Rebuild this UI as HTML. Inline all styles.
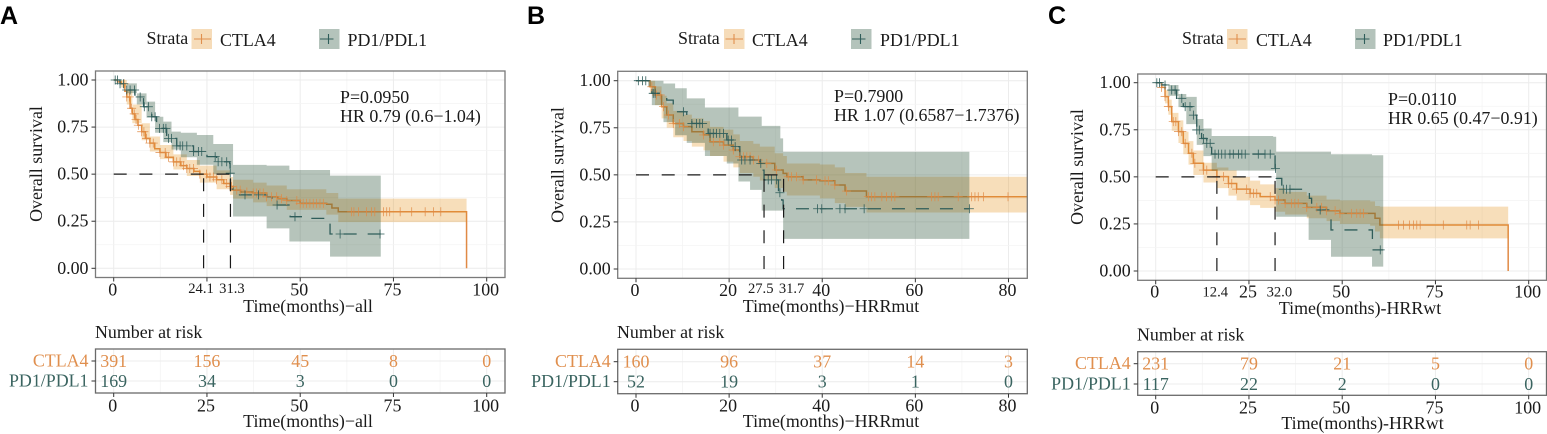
<!DOCTYPE html>
<html lang="en">
<head>
<meta charset="utf-8">
<title>Kaplan-Meier survival curves: CTLA4 vs PD1/PDL1</title>
<style>
html,body{margin:0;padding:0;background:#fff;width:1547px;height:434px;overflow:hidden}
svg{display:block;filter:blur(.3px)}
text{font-family:"Liberation Serif",serif;font-size:17.9px;fill:#1a1a1a}
.letter{font-family:"Liberation Sans",sans-serif;font-weight:bold;font-size:25px;fill:#000}
.cta{fill:#e08f4e}
.pd{fill:#3a6460}
</style>
</head>
<body>
<svg id="chart" xmlns="http://www.w3.org/2000/svg" width="1547" height="434" viewBox="0 0 1547 434">
  <rect x="0" y="0" width="1547" height="434" fill="#fff"/>
  <g id="layer-marks"></g>

  <g>
    <text class="letter" x="0" y="24">A</text>
    <text x="146.5" y="44">Strata</text>
    <g>
      <rect x="191.5" y="29" width="20.5" height="20" fill="#f6dcb9"/>
      <path d="M194 39H211M201.5 34V44" stroke="#e08f4e" stroke-width="1.1" fill="none"/>
      <text x="220" y="46">CTLA4</text>
    </g>
    <g>
      <rect x="319" y="29" width="20.5" height="20" fill="#b4c3bb"/>
      <path d="M320 39H333.5M328.500 34V44" stroke="#2f5d5a" stroke-width="1.1" fill="none"/>
      <text x="347.500" y="46">PD1/PDL1</text>
    </g>
    <text x="340" y="103">P=0.0950</text>
    <text x="340" y="122">HR 0.79 (0.6−1.04)</text>
    <text text-anchor="middle" transform="translate(42,164) rotate(-90)">Overall survival</text>
    <text text-anchor="middle" x="308" y="312">Time(months)−all</text>
    <text x="95" y="338">Number at risk</text>
    <text text-anchor="middle" x="308" y="427">Time(months)−all</text>
  </g>

  <g>
    <text class="letter" x="527" y="24">B</text>
    <text x="678" y="44">Strata</text>
    <g>
      <rect x="724" y="29" width="20.500" height="20" fill="#f6dcb9"/>
      <path d="M725.500 39H743M734 34V44" stroke="#e08f4e" stroke-width="1.1" fill="none"/>
      <text x="752" y="46">CTLA4</text>
    </g>
    <g>
      <rect x="851" y="29" width="20.500" height="20" fill="#b4c3bb"/>
      <path d="M852 39H865.500M860.500 34V44" stroke="#2f5d5a" stroke-width="1.1" fill="none"/>
      <text x="880" y="46">PD1/PDL1</text>
    </g>
    <text x="834" y="102">P=0.7900</text>
    <text x="834" y="121">HR 1.07 (0.6587−1.7376)</text>
    <text text-anchor="middle" transform="translate(563.500,165) rotate(-90)">Overall survival</text>
    <text text-anchor="middle" x="831" y="312">Time(months)−HRRmut</text>
    <text x="617" y="338">Number at risk</text>
    <text text-anchor="middle" x="831" y="427">Time(months)−HRRmut</text>
  </g>

  <g>
    <text class="letter" x="1048" y="24">C</text>
    <text x="1182" y="44">Strata</text>
    <g>
      <rect x="1227" y="29" width="20.500" height="20" fill="#f6dcb9"/>
      <path d="M1228.500 39H1246M1237 34V44" stroke="#e08f4e" stroke-width="1.1" fill="none"/>
      <text x="1256" y="46">CTLA4</text>
    </g>
    <g>
      <rect x="1355" y="29" width="20.500" height="20" fill="#b4c3bb"/>
      <path d="M1356 39H1369.500M1364.500 34V44" stroke="#2f5d5a" stroke-width="1.1" fill="none"/>
      <text x="1383" y="46">PD1/PDL1</text>
    </g>
    <text x="1388" y="105">P=0.0110</text>
    <text x="1388" y="124">HR 0.65 (0.47−0.91)</text>
    <text text-anchor="middle" transform="translate(1083,167) rotate(-90)">Overall survival</text>
    <text text-anchor="middle" x="1360" y="314">Time(months)-HRRwt</text>
    <text x="1137" y="340.500">Number at risk</text>
    <text text-anchor="middle" x="1362.500" y="429">Time(months)-HRRwt</text>
  </g>
</svg>

<script>
/* ---------- shared labels ---------- */
const survivalTicks = [0, 0.25, 0.5, 0.75, 1];
const survivalTickLabels = ['0.00', '0.25', '0.50', '0.75', '1.00'];
const strataNames = ['CTLA4', 'PD1/PDL1'];

/* ---------- panel A: all patients ---------- */
const aTimeTicks = [0, 25, 50, 75, 100];
const aTimeTickLabels = ['0', '', '50', '75', '100'];
const aRiskTickLabels = ['0', '25', '50', '75', '100'];
const aMedians = [24.1, 31.3];
const aMedianLabels = ['24.1', '31.3'];
const aCtlaRisk = [391, 156, 45, 8, 0];
const aPd1Risk = [169, 34, 3, 0, 0];
const aCtlaTimes = [0,1,2,3,3.5,4.4,5,5.7,6.5,7.5,8.5,9.7,11,12.4,14,16,18,19.6,21.5,23.1,25,27.6,29.5,31.2,32,34,37.4,41,44,46.4,50,57.1,58.5,60.2,94.6];
const aCtlaSurv = [1,.99,.98,.94,.91,.85,.82,.79,.76,.725,.69,.665,.635,.615,.59,.565,.545,.53,.515,.5,.485,.47,.45,.435,.415,.405,.4,.38,.37,.36,.345,.34,.32,.30,.30];
const aCtlaBandTimes = [0,2,3.5,5,7.5,9.7,12.4,16,19.6,23.1,27.6,31.2,32,37.4,41,46.4,57,60.2,94.6];
const aCtlaUpper = [1,1,.95,.87,.77,.70,.655,.605,.575,.545,.52,.485,.47,.455,.44,.42,.40,.37,.37];
const aCtlaLower = [1,.96,.87,.77,.68,.62,.58,.525,.49,.455,.42,.39,.37,.35,.33,.31,.285,.245,.245];
const aCtlaCensor = [2.8,3.5,4.2,4.8,5.5,6,6.6,7.5,8.1,8.8,9.7,10.6,12.4,13.8,14.7,16,16.9,17.8,18.7,19.6,20.4,21.4,23.1,24.9,25.8,26.7,27.6,29,30.3,31.2,31.6,33,33.9,35.7,37.4,38.3,39.2,40.1,41,42.3,43.7,45,46.4,49.1,50,50.8,51.7,52.6,53.5,54.4,55.3,56.2,63.8,64.4,65.6,67.8,69.1,70,72.3,73.2,74,76.8,79.9,83.5,85.7,87.7];
const aPd1Times = [0,1.7,3,5.7,8,10.2,11.5,14.2,16.9,21.4,25,27.6,31.1,31.2,31.3,32,41,42.4,47.3,52.2,58,71.6];
const aPd1Surv = [1,.98,.947,.91,.858,.805,.743,.69,.65,.62,.593,.566,.557,.505,.42,.39,.38,.336,.274,.265,.182,.182];
const aPd1BandTimes = [0,3.5,6.2,8.8,11.1,13.3,15.5,18,22.3,26.7,32,41,47.1,58,71.6];
const aPd1Upper = [1,.982,.929,.885,.805,.779,.726,.72,.708,.66,.549,.545,.522,.492,.492];
const aPd1Lower = [1,.93,.87,.80,.72,.67,.63,.59,.55,.50,.275,.212,.142,.062,.062];
const aPd1Censor = [.4,1,1.7,2.6,3.5,4.4,5.6,7.1,8.2,9.3,10.2,11.1,12.3,13.3,14,14.7,15.5,16.9,17.8,18.5,19.6,21.4,22.7,23.6,27.2,28,29,30.3,31.25,35.2,38.8,43.8,48.6,60.7,71.4];

/* ---------- panel B: HRR mutated ---------- */
const bTimeTicks = [0, 20, 40, 60, 80];
const bTimeTickLabels = ['0', '20', '40', '60', '80'];
const bRiskTickLabels = ['0', '20', '40', '60', '80'];
const bMedians = [27.5, 31.7];
const bMedianLabels = ['27.5', '31.7'];
const bCtlaRisk = [160, 96, 37, 14, 3];
const bPd1Risk = [52, 19, 3, 1, 0];
const bCtlaTimes = [0,1.9,3,4.1,5.5,6.6,8,10.2,12,14.5,15.9,18.8,20.9,22.3,25.2,26.6,29.8,31.6,32.4,35.9,39.5,42.7,44.9,49.5,84];
const bCtlaSurv = [1,1,.968,.924,.862,.818,.773,.756,.729,.712,.676,.658,.632,.596,.579,.561,.526,.508,.49,.473,.469,.446,.414,.384,.384];
const bCtlaBandTimes = [0,3,4.1,5.5,6.6,8,10.2,12,14.5,15.9,18.8,20.9,22.3,25.2,26.6,29.8,31.6,32.4,39.5,42.7,44.9,49.5,84];
const bCtlaUpper = [1,1,.97,.92,.88,.84,.82,.80,.785,.755,.74,.715,.68,.665,.65,.615,.60,.56,.555,.54,.51,.49,.49];
const bCtlaLower = [1,.93,.87,.80,.75,.70,.68,.65,.63,.60,.57,.54,.51,.49,.47,.43,.41,.39,.375,.35,.33,.30,.30];
const bCtlaCensor = [3.4,4.4,5.2,5.9,7,8,9.3,10.2,14.5,16.6,18,18.8,20.9,22.3,23.1,23.8,24.5,25.2,26.3,28.1,30.2,32.7,33.4,34.5,35.9,38.8,40.6,41.3,42.7,45.2,49.9,50.6,51.3,52.8,53.8,54.9,55.6,63.5,64.2,64.9,69.2,72.1,72.8,73.5,74.6,79.9];
const bPd1Times = [0,2.6,3.4,6.6,8,10.9,12,15.5,19.5,20.9,22.3,26.6,27,27.5,30.6,31.3,31.6,71.6];
const bPd1Surv = [1,.985,.933,.897,.835,.805,.773,.72,.685,.65,.579,.561,.525,.473,.405,.366,.32,.32];
const bPd1BandTimes = [0,2.6,3.4,5.9,8.4,10.9,14.8,19.5,22,24.5,27,31,31.6,71.6];
const bPd1Upper = [1,1,1,.985,.96,.906,.858,.858,.809,.809,.76,.694,.623,.623];
const bPd1Lower = [1,.97,.87,.78,.71,.67,.60,.56,.465,.42,.31,.31,.16,.16];
const bPd1Censor = [.5,1.4,2.1,3.7,4.1,10.2,12,13,13.7,14.3,15.9,16.6,17.3,18,18.8,19.8,20.5,21.3,22.7,23.4,24.5,26.8,28.4,29.1,30.2,30.9,39,39.9,43.8,44.9,49,71.6];

/* ---------- panel C: HRR wild type ---------- */
const cTimeTicks = [0, 25, 50, 75, 100];
const cTimeTickLabels = ['0', '25', '50', '75', '100'];
const cRiskTickLabels = ['0', '25', '50', '75', '100'];
const cMedians = [16.4, 32.0];
const cMedianLabels = ['12.4', '32.0'];
const cCtlaRisk = [231, 79, 21, 5, 0];
const cPd1Risk = [117, 22, 2, 0, 0];
const cCtlaTimes = [0,1.6,2.5,3.4,4.3,6.1,7.4,8.8,10.1,12.8,16.4,19.5,21.7,25.3,28,32,34.7,40.5,45.8,49.4,57.5,58.8,60.1,94.5];
const cCtlaSurv = [1,.975,.926,.873,.793,.74,.678,.625,.572,.536,.501,.465,.435,.412,.395,.377,.359,.338,.32,.306,.306,.28,.244,.244];
const cCtlaBandTimes = [0,2.5,3.4,4.3,6.1,7.4,8.8,10.1,12.8,16.4,19.5,21.7,25.3,28,32,34.7,40.5,45.8,49.4,57.5,58.8,60.1,94.5];
const cCtlaUpper = [1,.96,.91,.84,.80,.74,.69,.64,.575,.55,.535,.50,.48,.46,.44,.42,.40,.38,.375,.37,.345,.342,.342];
const cCtlaLower = [1,.89,.83,.745,.68,.62,.565,.51,.47,.44,.40,.375,.35,.335,.315,.30,.28,.265,.25,.24,.21,.173,.173];
const cCtlaCensor = [1.6,2.5,3.4,4.7,5.4,6.1,7,7.9,9.7,10.5,12.8,13.7,16.4,18.2,19.5,20.4,21.7,24.4,25.3,26.2,27.1,30.7,32,32.9,34.7,36.4,37.3,38.2,40.5,43.2,44.5,45.8,48.1,49.4,52.5,53.9,54.8,55.7,65.1,66.4,68,69.1,70,70.9,77.1,83.4,84.3,86.5];
const cPd1Times = [0,1.6,3.4,5.6,7.4,9.7,11,12.3,13.7,15,32,32.3,33.8,40.5,41.2,41.8,47,57.9,58.1,61];
const cPd1Surv = [1,.988,.961,.917,.873,.828,.749,.704,.678,.621,.545,.492,.434,.43,.386,.324,.218,.218,.112,.112];
const cPd1BandTimes = [0,3.4,6.1,8.2,11,12.8,15,31.5,32.3,41,47,58,61];
const cPd1Upper = [1,.988,.94,.925,.807,.757,.717,.713,.634,.634,.62,.615,.615];
const cPd1Lower = [1,.93,.87,.78,.67,.61,.533,.533,.288,.165,.076,.023,.023];
const cPd1Censor = [.3,1,2.5,4.3,5.2,7,7.9,9.2,10.1,11,11.7,12.8,13.7,14.6,15.9,16.8,17.7,18.6,19.9,20.8,22.2,23.1,24,27.5,29.3,30.7,32.1,34.2,35.1,36,44.1,60.2];

/* ---------- drawing ---------- */
const SVG_NS = 'http://www.w3.org/2000/svg';
const CTLA_COLOR = '#e08a45';
const PD1_COLOR = '#2f5d5a';
const marks = document.getElementById('layer-marks');

function make(tag, attrs, parent, content) {
  const node = document.createElementNS(SVG_NS, tag);
  for (const key in attrs) node.setAttribute(key, attrs[key]);
  if (content !== undefined) node.textContent = content;
  parent.appendChild(node);
  return node;
}

function stepPath(times, values, xAxis, yAxis, dropToZero) {
  let d = 'M' + xAxis(times[0]).toFixed(2) + ' ' + yAxis(values[0]).toFixed(2);
  for (let i = 1; i < times.length; i++) {
    d += 'H' + xAxis(times[i]).toFixed(2) + 'V' + yAxis(values[i]).toFixed(2);
  }
  if (dropToZero) d += 'V' + yAxis(0).toFixed(2);
  return d;
}

function bandPath(times, upper, lower, xAxis, yAxis) {
  let d = stepPath(times, upper, xAxis, yAxis, false);
  for (let i = times.length - 1; i >= 0; i--) {
    d += 'L' + xAxis(times[i]).toFixed(2) + ' ' + yAxis(lower[i]).toFixed(2);
    if (i > 0) d += 'V' + yAxis(lower[i - 1]).toFixed(2);
  }
  return d + 'Z';
}

function survivalAt(times, values, t) {
  let s = values[0];
  for (let i = 0; i < times.length; i++) {
    if (times[i] <= t) s = values[i];
  }
  return s;
}

function censorPath(censor, times, values, xAxis, yAxis, arm) {
  let d = '';
  censor.forEach(function (t) {
    const px = xAxis(t);
    const py = yAxis(survivalAt(times, values, t));
    d += 'M' + (px - arm).toFixed(2) + ' ' + py.toFixed(2) + 'h' + (2 * arm) + 'M' + px.toFixed(2) + ' ' + (py - arm).toFixed(2) + 'v' + (2 * arm);
  });
  return d;
}

function drawPanel(p) {
  const xAxis = function (t) { return p.xZero + t * p.pxPerMonth; };
  const yAxis = function (s) { return p.yZero - s * (p.yZero - p.yOne); };
  const riskRowY = [p.riskRow1, p.riskRow2];

  const group = make('g', {}, marks);
  
  

  /* gridlines */
  const grid = make('g', { fill: 'none' }, group);
  
  
  const halfStep = (p.ticks[1] - p.ticks[0]) / 2;
  for (let i = 0; i < p.ticks.length; i++) {
    [p.ticks[i], p.ticks[i] + halfStep].forEach(function (t, j) {
      const gx = xAxis(t);
      if (gx >= p.right) return;
      const stroke = j === 0 ? '#ececec' : '#f4f4f4';
      const sw = j === 0 ? 1 : 0.8;
      make('line', { x1: gx, x2: gx, y1: p.top, y2: p.bottom, stroke: stroke, 'stroke-width': sw }, grid);
      make('line', { x1: gx, x2: gx, y1: p.riskTop, y2: p.riskBottom, stroke: stroke, 'stroke-width': sw }, grid);
    });
  }
  survivalTicks.forEach(function (s, i) {
    make('line', { x1: p.left, x2: p.right, y1: yAxis(s), y2: yAxis(s), stroke: '#ececec', 'stroke-width': 1 }, grid);
    if (i < survivalTicks.length - 1) {
      const mid = (s + survivalTicks[i + 1]) / 2;
      make('line', { x1: p.left, x2: p.right, y1: yAxis(mid), y2: yAxis(mid), stroke: '#f4f4f4', 'stroke-width': 0.8 }, grid);
    }
  });
  riskRowY.forEach(function (ry) {
    make('line', { x1: p.left, x2: p.right, y1: ry, y2: ry, stroke: '#ececec', 'stroke-width': 1 }, grid);
  });

  /* survival curves and confidence bands */
  const ctlaLine = make('path', { d: stepPath(p.ctlaTimes, p.ctlaSurv, xAxis, yAxis, p.ctlaDrops), fill: 'none', stroke: CTLA_COLOR, 'stroke-width': 1.5 }, group);
  
  

  const ctlaBand = make('path', { d: bandPath(p.ctlaBandTimes, p.ctlaUpper, p.ctlaLower, xAxis, yAxis), fill: 'rgb(228,145,25)', 'fill-opacity': 0.3 }, group);
  
  

  const pd1Band = make('path', { d: bandPath(p.pd1BandTimes, p.pd1Upper, p.pd1Lower, xAxis, yAxis), fill: 'rgb(45,85,60)', 'fill-opacity': 0.35 }, group);
  
  

  const pd1Line = make('path', { d: stepPath(p.pd1Times, p.pd1Surv, xAxis, yAxis, false), fill: 'none', stroke: PD1_COLOR, 'stroke-width': 1.3, 'stroke-dasharray': '13 11' }, group);
  
  

  const ctlaMarks = make('path', { d: censorPath(p.ctlaCensor, p.ctlaTimes, p.ctlaSurv, xAxis, yAxis, 4.5), fill: 'none', stroke: CTLA_COLOR, 'stroke-width': 0.7 }, group);
  
  

  const pd1Marks = make('path', { d: censorPath(p.pd1Censor, p.pd1Times, p.pd1Surv, xAxis, yAxis, 4.5), fill: 'none', stroke: PD1_COLOR, 'stroke-width': 0.8 }, group);
  
  

  /* median survival guides */
  const medianGroup = make('g', { fill: 'none', stroke: '#1a1a1a', 'stroke-width': 1.2, 'stroke-dasharray': '13 12.7' }, group);
  
  
  const lastMedian = p.medians[p.medians.length - 1];
  make('line', { x1: xAxis(0), x2: xAxis(lastMedian), y1: yAxis(0.5), y2: yAxis(0.5) }, medianGroup);
  p.medians.forEach(function (m) {
    make('line', { x1: xAxis(m), x2: xAxis(m), y1: yAxis(0), y2: yAxis(0.5) }, medianGroup);
  });

  /* panel borders */
  const frame = make('rect', { x: p.left, y: p.top, width: p.right - p.left, height: p.bottom - p.top, fill: 'none', stroke: '#7a7a7a', 'stroke-width': 1.3 }, group);
  
  
  const riskFrame = make('rect', { x: p.left, y: p.riskTop, width: p.right - p.left, height: p.riskBottom - p.riskTop, fill: 'none', stroke: '#6a6a6a', 'stroke-width': 1.3 }, group);
  
  

  /* y axis */
  const yGroup = make('g', {}, group);
  
  
  survivalTicks.forEach(function (s, i) {
    make('line', { x1: p.left - 4, x2: p.left, y1: yAxis(s), y2: yAxis(s), stroke: '#333', 'stroke-width': 1 }, yGroup);
    make('text', { x: p.left - 7, y: yAxis(s) + 5.5, 'text-anchor': 'end' }, yGroup, survivalTickLabels[i]);
  });

  /* x axis */
  const xGroup = make('g', {}, group);
  
  
  p.ticks.forEach(function (t, i) {
    const tx = xAxis(t);
    make('line', { x1: tx, x2: tx, y1: p.bottom, y2: p.bottom + 4, stroke: '#333', 'stroke-width': 1 }, xGroup);
    if (p.tickLabels[i]) {
      make('text', { x: tx - 1, y: p.tickBase, 'text-anchor': 'middle' }, xGroup, p.tickLabels[i]);
    }
  });
  p.medians.forEach(function (m, i) {
    make('text', { x: xAxis(m) + p.medianNudge[i], y: p.medianBase, 'text-anchor': 'middle', style: 'font-size:14.6px' }, xGroup, p.medianLabels[i]);
  });

  /* risk table */
  const riskGroup = make('g', {}, group);
  
  
  [p.ctlaRisk, p.pd1Risk].forEach(function (row, r) {
    const cls = r === 0 ? 'cta' : 'pd';
    make('line', { x1: p.left - 4, x2: p.left, y1: riskRowY[r], y2: riskRowY[r], stroke: '#333', 'stroke-width': 1 }, riskGroup);
    make('text', { x: p.left - 7, y: riskRowY[r] + 5.5, 'text-anchor': 'end', class: cls }, riskGroup, strataNames[r]);
    row.forEach(function (value, i) {
      make('text', { x: xAxis(p.ticks[i]), y: riskRowY[r] + 6, 'text-anchor': 'middle', class: cls }, riskGroup, String(value));
    });
  });
  p.ticks.forEach(function (t, i) {
    const tx = xAxis(t);
    make('line', { x1: tx, x2: tx, y1: p.riskBottom, y2: p.riskBottom + 4, stroke: '#333', 'stroke-width': 1 }, riskGroup);
    make('text', { x: tx - 1, y: p.riskTickBase, 'text-anchor': 'middle' }, riskGroup, p.riskTickLabels[i]);
  });
}

drawPanel({
  key: 'a', xZero: 113.7, pxPerMonth: 3.73, yOne: 80, yZero: 268.3,
  left: 95.5, right: 505, top: 71, bottom: 277.5,
  riskTop: 349, riskBottom: 393, riskRow1: 361, riskRow2: 381,
  tickBase: 295.5, medianBase: 293, riskTickBase: 411.5, medianNudge: [-2.6, 1.5],
  ticks: aTimeTicks, tickLabels: aTimeTickLabels, riskTickLabels: aRiskTickLabels,
  medians: aMedians, medianLabels: aMedianLabels, ctlaRisk: aCtlaRisk, pd1Risk: aPd1Risk,
  ctlaTimes: aCtlaTimes, ctlaSurv: aCtlaSurv, ctlaBandTimes: aCtlaBandTimes, ctlaUpper: aCtlaUpper, ctlaLower: aCtlaLower, ctlaCensor: aCtlaCensor, ctlaDrops: true,
  pd1Times: aPd1Times, pd1Surv: aPd1Surv, pd1BandTimes: aPd1BandTimes, pd1Upper: aPd1Upper, pd1Lower: aPd1Lower, pd1Censor: aPd1Censor
});

drawPanel({
  key: 'b', xZero: 636, pxPerMonth: 4.656, yOne: 80.7, yZero: 269,
  left: 617.7, right: 1027.3, top: 71.3, bottom: 278.3,
  riskTop: 349.3, riskBottom: 393.7, riskRow1: 361.7, riskRow2: 381.7,
  tickBase: 296, medianBase: 293, riskTickBase: 411.7, medianNudge: [-3.3, 8],
  ticks: bTimeTicks, tickLabels: bTimeTickLabels, riskTickLabels: bRiskTickLabels,
  medians: bMedians, medianLabels: bMedianLabels, ctlaRisk: bCtlaRisk, pd1Risk: bPd1Risk,
  ctlaTimes: bCtlaTimes, ctlaSurv: bCtlaSurv, ctlaBandTimes: bCtlaBandTimes, ctlaUpper: bCtlaUpper, ctlaLower: bCtlaLower, ctlaCensor: bCtlaCensor, ctlaDrops: false,
  pd1Times: bPd1Times, pd1Surv: bPd1Surv, pd1BandTimes: bPd1BandTimes, pd1Upper: bPd1Upper, pd1Lower: bPd1Lower, pd1Censor: bPd1Censor
});

drawPanel({
  key: 'c', xZero: 1155.7, pxPerMonth: 3.73, yOne: 82.7, yZero: 271,
  left: 1137.7, right: 1546.5, top: 74, bottom: 280.3,
  riskTop: 351.7, riskBottom: 395.3, riskRow1: 363.7, riskRow2: 384,
  tickBase: 297.5, medianBase: 296.5, riskTickBase: 413.3, medianNudge: [-1.6, 4.3],
  ticks: cTimeTicks, tickLabels: cTimeTickLabels, riskTickLabels: cRiskTickLabels,
  medians: cMedians, medianLabels: cMedianLabels, ctlaRisk: cCtlaRisk, pd1Risk: cPd1Risk,
  ctlaTimes: cCtlaTimes, ctlaSurv: cCtlaSurv, ctlaBandTimes: cCtlaBandTimes, ctlaUpper: cCtlaUpper, ctlaLower: cCtlaLower, ctlaCensor: cCtlaCensor, ctlaDrops: true,
  pd1Times: cPd1Times, pd1Surv: cPd1Surv, pd1BandTimes: cPd1BandTimes, pd1Upper: cPd1Upper, pd1Lower: cPd1Lower, pd1Censor: cPd1Censor
});
</script>
</body>
</html>
